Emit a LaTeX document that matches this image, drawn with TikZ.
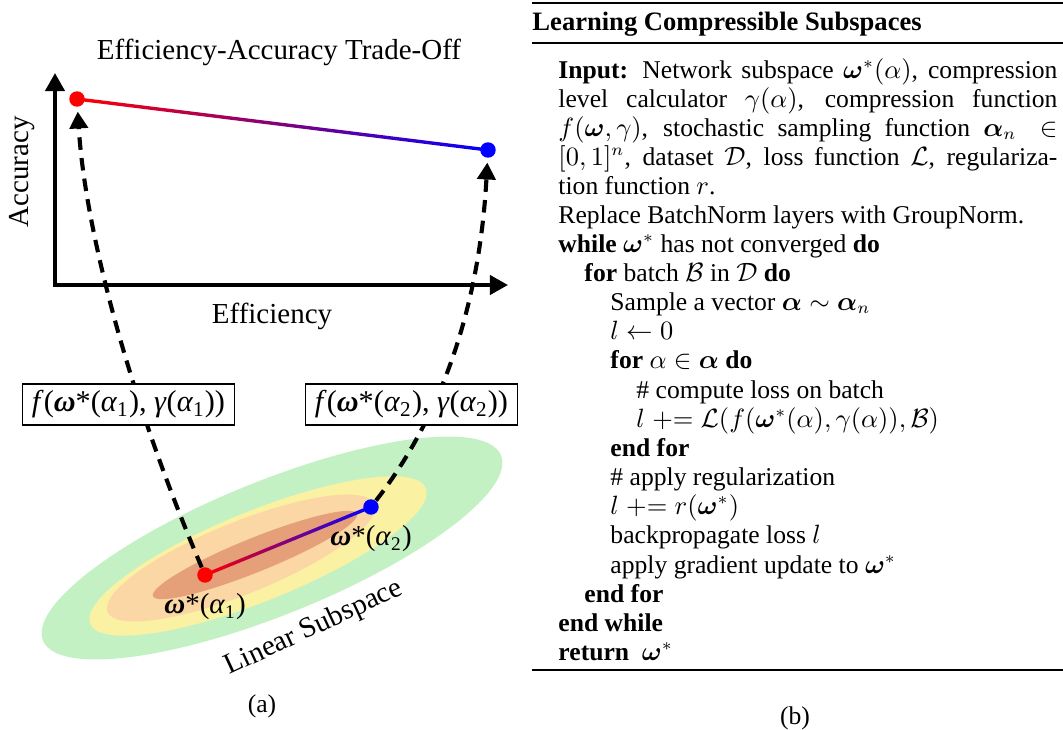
\documentclass[tikz,border=0pt]{standalone}
\usepackage{amsmath}
\usepackage{amssymb}
\usepackage[no-math]{fontspec}
\setmainfont{Liberation Serif}
\usetikzlibrary{arrows.meta,calc,positioning}
\pgfdeclarelayer{back}
\pgfsetlayers{back,main}

\definecolor{spacegreen}{RGB}{195,241,196}
\definecolor{spaceyellow}{RGB}{251,241,163}
\definecolor{spaceorange}{RGB}{251,215,165}
\definecolor{spacedark}{RGB}{229,160,122}

\tikzset{
	% plot and subspace
	axis/.style={line width=1.65pt, {Triangle[width=7.9pt,length=7.5pt]}-{Triangle[width=7.9pt,length=7.5pt]}},
	endpoint/.style={circle, inner sep=0pt, minimum size=6.4pt},
	mapping/.style={line width=1.7pt, dash pattern=on 5.2pt off 3.4pt, -{Triangle[width=7.5pt,length=7pt]}, shorten >=1.8pt},
	compbox/.style={draw, line width=0.5pt, fill=white, minimum width=88pt, minimum height=17pt, inner sep=0pt, font=\fontsize{12.5}{14}\selectfont},
	panel/.style={inner sep=0pt, font=\fontsize{12}{14}\selectfont},
	% algorithm
	algo/.style={anchor=base west, inner sep=0pt, font=\fontsize{10.6}{12}\selectfont},
	algohead/.style={anchor=base west, inner sep=0pt, font=\fontsize{11}{13}\selectfont\bfseries},
	caption/.style={inner sep=0pt, font=\fontsize{10.6}{12}\selectfont}
}

\newcommand{\wstar}{\textbf{\textit{ω}}*}
\newcommand{\alsub}[1]{\textit{α}\textsubscript{#1}}
\newcommand{\fullline}[1]{\makebox[206.6pt][s]{#1}}

\begin{document}
\begin{tikzpicture}[x=0.414pt, y=-0.414pt]
	\useasboundingbox (0,0) rectangle (1063,729);

	% linear subspace
	\begin{pgfonlayer}{back}
		\fill[spacegreen] (272,548) circle [x radius=247, y radius=67, rotate=22];
		\fill[spaceyellow] (258,556) circle [x radius=181, y radius=45, rotate=22];
		\fill[spaceorange] (241,558) circle [x radius=144, y radius=36, rotate=22];
		\fill[spacedark] (255,555) circle [x radius=110, y radius=17, rotate=22];
	\end{pgfonlayer}
	\node[panel, rotate=25] (sub) at (314,628) {Linear Subspace};

	% trade-off plot
	\node[panel] (title) at (279,52) {Efficiency-Accuracy Trade-Off};
	\draw[axis] (55,73) |- (508,285);
	\node[panel, rotate=90] (acc) at (22,172) {Accuracy};
	\node[panel] (eff) at (272,316) {Efficiency};

	\node[endpoint, fill=red] (hi1) at (77,99) {};
	\node[endpoint, fill=blue] (hi2) at (488,150) {};
	\node[endpoint, fill=red] (lo1) at (205,575) {};
	\node[endpoint, fill=blue] (lo2) at (371,507) {};
	\node[panel] (w1) at (205,607) {\wstar(\alsub{1})};
	\node[panel] (w2) at (371,539) {\wstar(\alsub{2})};

	\node[compbox] (map1) at (128.5,404.5) {\textit{f}(\wstar(\alsub{1}), \textit{γ}(\alsub{1}))};
	\node[compbox] (map2) at (411.5,404.5) {\textit{f}(\wstar(\alsub{2}), \textit{γ}(\alsub{2}))};

	\begin{pgfonlayer}{back}
		\shade[left color=red, right color=blue] ($(hi1)!0.7pt!90:(hi2)$) -- ($(hi1)!0.7pt!-90:(hi2)$) -- ($(hi2)!0.7pt!90:(hi1)$) -- ($(hi2)!0.7pt!-90:(hi1)$) -- cycle;
		\shade[left color=red, right color=blue] ($(lo1)!0.7pt!90:(lo2)$) -- ($(lo1)!0.7pt!-90:(lo2)$) -- ($(lo2)!0.7pt!90:(lo1)$) -- ($(lo2)!0.7pt!-90:(lo1)$) -- cycle;
		\draw[mapping] (lo1) .. controls (130,400) and (85,230) .. (hi1);
		\draw[mapping] (lo2) .. controls (462,390) and (482,260) .. (hi2);
	\end{pgfonlayer}

	\node[caption] (capa) at (262,706) {(a)};

	% algorithm
	\draw[line width=0.8pt] (532,3) -- (1063,3);
	\node[algohead] (head) at (532,30) {Learning Compressible Subspaces};
	\draw[line width=0.5pt] (532,43) -- (1063,43);

	\node[algo] (in1) at (558,78) {\fullline{\textbf{Input:} Network subspace $\boldsymbol{\omega}^*(\alpha)$, compression}};
	\node[algo] (in2) at (558,107) {\fullline{level calculator $\gamma(\alpha)$, compression function}};
	\node[algo] (in3) at (558,136) {\fullline{$f(\boldsymbol{\omega},\gamma)$, stochastic sampling function $\boldsymbol{\alpha}_n \in$}};
	\node[algo] (in4) at (558,165) {\fullline{$[0,1]^n$, dataset $\mathcal{D}$, loss function $\mathcal{L}$, regulariza-}};
	\node[algo] (in5) at (558,194) {tion function $r$.};
	\node[algo] (l1) at (558,223) {Replace BatchNorm layers with GroupNorm.};
	\node[algo] (l2) at (558,252) {\textbf{while} $\boldsymbol{\omega}^*$ has not converged \textbf{do}};
	\node[algo] (l3) at (584,281) {\textbf{for} batch $\mathcal{B}$ in $\mathcal{D}$ \textbf{do}};
	\node[algo] (l4) at (610,310) {Sample a vector $\boldsymbol{\alpha} \sim \boldsymbol{\alpha}_n$};
	\node[algo] (l5) at (610,339) {$l \leftarrow 0$};
	\node[algo] (l6) at (610,368) {\textbf{for} $\alpha \in \boldsymbol{\alpha}$ \textbf{do}};
	\node[algo] (l7) at (636,398) {\# compute loss on batch};
	\node[algo] (l8) at (636,427) {$l \mathrel{+}= \mathcal{L}(f(\boldsymbol{\omega}^*(\alpha),\gamma(\alpha)),\mathcal{B})$};
	\node[algo] (l9) at (610,456) {\textbf{end for}};
	\node[algo] (l10) at (610,485) {\# apply regularization};
	\node[algo] (l11) at (610,514) {$l \mathrel{+}= r(\boldsymbol{\omega}^*)$};
	\node[algo] (l12) at (610,543) {backpropagate loss $l$};
	\node[algo] (l13) at (610,573) {apply gradient update to $\boldsymbol{\omega}^*$};
	\node[algo] (l14) at (584,602) {\textbf{end for}};
	\node[algo] (l15) at (558,631) {\textbf{end while}};
	\node[algo] (l16) at (558,660) {\textbf{return} \ $\boldsymbol{\omega}^*$};
	\draw[line width=0.8pt] (532,670) -- (1063,670);

	\node[caption] (capb) at (795,718) {(b)};
\end{tikzpicture}
\end{document}
